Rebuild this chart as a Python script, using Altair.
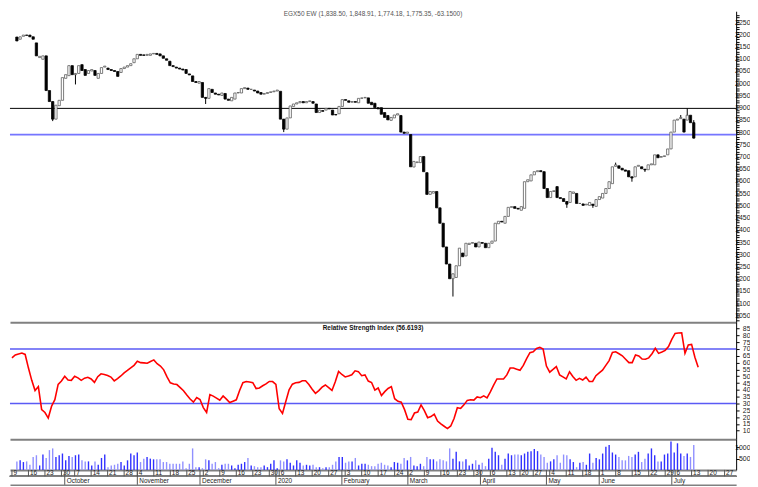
import altair as alt
import pandas as pd

# ---------------- price candles (one entry per trading day) ----------------
open_sep_dec = [2189, 2180, 2192, 2197, 2197, 2190, 2165, 2105, 2098, 2112,
                1970, 1925, 1853, 1908, 1930, 2020, 2031, 2072, 2035, 2040,
                2076, 2056, 2040, 2050, 2052, 2020, 2040, 2066, 2062, 2056,
                2052, 2048, 2044, 2060, 2066, 2072, 2084, 2100, 2118, 2116,
                2114, 2114, 2120, 2122, 2120, 2112, 2100, 2090, 2072, 2066,
                2062, 2058, 2056, 2038, 2030, 2007, 2000, 2003, 1942, 1938,
                1975, 1960, 1955, 1950, 1958, 1935, 1928, 1935, 1960, 1960,
                1978, 1980, 1975]
close_sep_dec = [2173, 2190, 2197, 2196, 2190, 2180, 2112, 2110, 2112, 1970,
                 1925, 1853, 1910, 1930, 2023, 2035, 2072, 2035, 2040, 2072,
                 2052, 2032, 2052, 2056, 2032, 2040, 2064, 2070, 2056, 2052,
                 2048, 2028, 2060, 2066, 2072, 2080, 2100, 2118, 2114, 2114,
                 2118, 2120, 2122, 2118, 2112, 2102, 2094, 2072, 2068, 2062,
                 2058, 2054, 2040, 2034, 2007, 2003, 2007, 1942, 1938, 1978,
                 1962, 1955, 1952, 1960, 1935, 1930, 1942, 1960, 1962, 1978,
                 1982, 1975, 1975]
open_dec_apr = [1972, 1968, 1962, 1955, 1958, 1962, 1965, 1968, 1967, 1853,
                1812, 1858, 1905, 1915, 1920, 1925, 1920, 1925, 1925, 1915,
                1880, 1888, 1890, 1897, 1890, 1872, 1875, 1905, 1933, 1928,
                1922, 1925, 1920, 1938, 1940, 1940, 1922, 1918, 1900, 1900,
                1880, 1868, 1848, 1858, 1870, 1868, 1800, 1795, 1790, 1657,
                1675, 1675, 1700, 1634, 1545, 1550, 1557, 1490, 1427, 1330,
                1260, 1200, 1205, 1253, 1305, 1293, 1340, 1345, 1345, 1330,
                1348, 1345, 1327, 1345, 1354]
close_dec_apr = [1968, 1960, 1955, 1958, 1962, 1965, 1968, 1972, 1853, 1812,
                 1858, 1907, 1915, 1920, 1925, 1920, 1925, 1928, 1918, 1880,
                 1890, 1885, 1897, 1895, 1870, 1870, 1905, 1933, 1930, 1922,
                 1925, 1922, 1938, 1940, 1942, 1918, 1912, 1900, 1895, 1873,
                 1860, 1850, 1860, 1870, 1875, 1800, 1795, 1800, 1658, 1680,
                 1678, 1700, 1638, 1545, 1557, 1557, 1490, 1427, 1330, 1260,
                 1200, 1220, 1253, 1325, 1290, 1345, 1345, 1348, 1330, 1350,
                 1345, 1327, 1345, 1354, 1427]
open_apr_jul = [1425, 1435, 1427, 1455, 1492, 1495, 1488, 1480, 1488, 1597,
                1600, 1625, 1638, 1642, 1638, 1569, 1532, 1557, 1577, 1532,
                1528, 1516, 1512, 1549, 1549, 1508, 1506, 1502, 1500, 1505,
                1496, 1524, 1530, 1549, 1569, 1589, 1660, 1662, 1652, 1645,
                1642, 1617, 1617, 1660, 1658, 1648, 1646, 1666, 1666, 1707,
                1697, 1700, 1707, 1731, 1800, 1849, 1855, 1853, 1849, 1869,
                1838.50]
close_apr_jul = [1435, 1432, 1455, 1492, 1495, 1488, 1485, 1495, 1597, 1605,
                 1625, 1638, 1642, 1638, 1569, 1532, 1557, 1560, 1532, 1528,
                 1516, 1505, 1557, 1555, 1508, 1508, 1500, 1505, 1512, 1500,
                 1524, 1536, 1549, 1569, 1597, 1658, 1666, 1652, 1645, 1640,
                 1617, 1612, 1658, 1664, 1650, 1645, 1666, 1670, 1707, 1695,
                 1700, 1703, 1731, 1800, 1849, 1853, 1860, 1800, 1869, 1838.50,
                 1775.35]

# visible shadows (day index, high, low)
wick_day = [11, 18, 58, 82, 134, 169, 177, 184, 189, 193, 204, 206, 208]
wick_high = [1925, 2040, 1942, 1853, 1220, 1516, 1505, 1675, 1617, 1648, 1870, 1897, 1848.91]
wick_low = [1845, 1995, 1915, 1800, 1127, 1490, 1490, 1660, 1597, 1637, 1855, 1849, 1774.18]

# ---------------- RSI ----------------
rsi_values = [63.5, 65.6, 66.4, 67, 66, 56, 47, 39.5, 42.4, 25.6,
              23.4, 19.3, 28, 32.8, 44, 46.5, 50, 47.3, 47, 50,
              48.8, 47, 48.6, 49.2, 48, 45.5, 49.7, 51.8, 51.3, 50.6,
              49.4, 46.6, 48.3, 50.2, 52.5, 54.3, 56.2, 58, 61, 60,
              59.8, 59.6, 60.8, 62, 59.2, 57.5, 54.7, 49.5, 45.2, 44.3,
              43.9, 41.6, 39.4, 36.2, 33.3, 31, 34.3, 32.9, 27, 23.4,
              36.5, 35.4, 34, 32.4, 35.5, 33.2, 30.7, 31.7, 32.7, 39.6,
              45.3, 46.1, 45.8, 45.3, 41, 41.4, 43, 44.4, 46.2, 46.1,
              44, 26.1, 22.7, 31.5, 40, 44.2, 45.2, 45.5, 46.7, 46.7,
              44, 40.5, 37.5, 39.5, 42, 43.6, 41.7, 39.6, 46, 53.5,
              51.3, 49.5, 50.2, 51.1, 54, 53.4, 50.4, 51, 46.5, 45.4,
              39.8, 41.4, 35.8, 38.7, 41, 42.4, 33.5, 31.6, 31, 25.5,
              18.4, 18.2, 23, 23.7, 29, 24.8, 19.6, 20.4, 22.2, 17.1,
              15, 13.3, 11.6, 13.5, 19, 26.9, 26.4, 29, 32.3, 32.7,
              32.5, 34.8, 34.2, 35.6, 34.1, 38.5, 43.5, 48, 48, 48,
              51, 56, 56, 55.2, 54.4, 58, 63, 67.3, 68, 70.4,
              71.2, 70, 57.5, 53, 55, 57.1, 51, 49.5, 48, 53.3,
              49.8, 47, 48.5, 47.2, 49.4, 46.2, 46.2, 50.4, 52.5, 54.5,
              58, 61.5, 67.5, 68, 66.5, 65, 62.5, 60, 60, 65.6,
              64.9, 62.6, 62.5, 63.5, 66.5, 70.5, 66.8, 67.8, 69, 71.8,
              77, 81.4, 81.7, 81.9, 66.8, 72.9, 73.4, 64, 56.6]

# ---------------- volume ----------------
volume_sep_feb = [375, 420, 345, 375, 225, 570, 645, 195, 675, 525,
                  870, 945, 570, 645, 720, 420, 615, 570, 645, 675,
                  420, 375, 375, 195, 375, 225, 525, 675, 120, 195,
                  225, 270, 345, 195, 420, 720, 645, 765, 345, 495,
                  570, 495, 465, 465, 465, 345, 345, 270, 270, 270,
                  270, 375, 75, 270, 945, 120, 120, 75, 465, 420,
                  270, 345, 75, 225, 270, 270, 195, 75, 225, 270,
                  345, 525, 195, 165, 120, 120, 195, 120, 270, 420,
                  75, 420, 375, 465, 315, 195, 420, 315, 195, 225,
                  195, 225, 120, 120, 75, 120, 120, 225, 375, 570,
                  570, 315, 375, 375, 525, 195, 270, 270, 225, 165,
                  165]
volume_feb_jul = [270, 315, 225, 195, 120, 345, 315, 270, 525, 420,
                  570, 195, 165, 270, 165, 570, 465, 465, 375, 465,
                  420, 375, 945, 495, 795, 375, 375, 465, 195, 270,
                  420, 225, 315, 165, 495, 975, 795, 645, 225, 495,
                  720, 645, 675, 675, 645, 720, 795, 825, 915, 825,
                  675, 570, 315, 375, 465, 645, 315, 675, 645, 465,
                  345, 120, 315, 345, 225, 720, 315, 525, 465, 720,
                  1020, 1095, 765, 675, 570, 420, 420, 615, 570, 675,
                  795, 345, 495, 720, 945, 645, 375, 375, 675, 720,
                  1245, 765, 1170, 720, 615, 720, 570, 1095]

# ---------------- date axis ----------------
week_day = [0, 5, 10, 15, 19, 24, 29, 34, 38, 43, 48, 53, 58, 63, 68, 73, 78, 81, 86, 91,
            96, 101, 106, 111, 116, 120, 125, 130, 135, 140, 145, 150, 154, 158, 163, 168,
            173, 178, 183, 188, 193, 198, 201, 206, 211, 216]
week_label = ["9", "16", "23", "30", "7", "14", "21", "28", "4", "11", "18", "25", "2", "9",
              "16", "23", "30", "6", "13", "20", "27", "3", "10", "17", "24", "2", "9", "16",
              "23", "30", "6", "13", "20", "27", "4", "11", "18", "1", "8", "15", "22", "29",
              "6", "13", "20", "27"]
month_day = [16, 38, 57, 80, 100, 120, 142, 162, 178, 200]
month_label = ["October", "November", "December", "2020", "February",
               "March", "April", "May", "June", "July"]

price_ticks = list(range(1030, 2290, 10))
rsi_ticks = [10, 15, 20, 25, 30, 35, 40, 45, 50, 55, 60, 65, 70, 75, 80, 85]
volume_ticks = [500, 1000]
resistance_level = [1897]
support_level = [1790]
rsi_bands = [70, 30]
chart_title = "EGX50 EW (1,838.50, 1,848.91, 1,774.18, 1,775.35, -63.1500)"
rsi_title = "Relative Strength Index (56.6193)"

# ---------------- tables ----------------
opens = open_sep_dec + open_dec_apr + open_apr_jul
closes = close_sep_dec + close_dec_apr + close_apr_jul
df = pd.DataFrame({
    "day": list(range(len(opens))),
    "open": opens,
    "close": closes,
    "rsi": rsi_values,
    "volume": volume_sep_feb + volume_feb_jul,
})
wicks = pd.DataFrame({"day": wick_day, "high": wick_high, "low": wick_low})
weeks = pd.DataFrame({"day": week_day, "label": week_label})
months = pd.DataFrame({"day": month_day, "label": month_label})

W = 733
FONT = "Liberation Sans"
xs = alt.Scale(domain=[-0.6, 219.5], nice=False, zero=False)


def xenc(line=True, width=2):
    return alt.X("day:Q", scale=xs,
                 axis=alt.Axis(domain=line, domainColor="#808080", domainWidth=width,
                               ticks=False, labels=False, grid=False, title=None))


def right_axis(values, label_expr=None, fmt="d"):
    kw = dict(orient="right", values=values, format=fmt, tickSize=3, tickColor="#000000",
              domainColor="#000000", domainWidth=1, labelFontSize=7, labelColor="#222222",
              labelFont=FONT, labelAlign="right", labelBaseline="middle", labelPadding=11,
              labelOverlap=False, grid=False, title=None)
    if label_expr:
        kw["labelExpr"] = label_expr
    return alt.Axis(**kw)


# ---------------- price panel ----------------
pscale = alt.Scale(domain=[1021.6, 2294.6], nice=False, zero=False)
paxis = right_axis(price_ticks, "datum.value % 50 == 0 ? datum.label : ''")

wick_layer = alt.Chart(wicks).mark_rule(color="#000000", strokeWidth=1).encode(
    x=xenc(), y=alt.Y("low:Q", scale=pscale, axis=paxis), y2="high:Q")
up_layer = alt.Chart(df).transform_filter("datum.close >= datum.open").mark_bar(
    width=2.3, fill="#ffffff", stroke="#5a5a5a", strokeWidth=0.8).encode(
    x=xenc(), y=alt.Y("open:Q", scale=pscale, axis=paxis), y2="close:Q")
down_layer = alt.Chart(df).transform_filter("datum.close < datum.open").mark_bar(
    width=2.3, fill="#000000", stroke="#000000", strokeWidth=0.8).encode(
    x=xenc(), y=alt.Y("open:Q", scale=pscale, axis=paxis), y2="close:Q")
res_layer = alt.Chart(pd.DataFrame({"level": resistance_level})).mark_rule(
    color="#000000", strokeWidth=1).encode(y=alt.Y("level:Q", scale=pscale, axis=paxis))
sup_layer = alt.Chart(pd.DataFrame({"level": support_level})).mark_rule(
    color="#7575ff", strokeWidth=1.7).encode(y=alt.Y("level:Q", scale=pscale, axis=paxis))
ptitle = alt.Chart(pd.DataFrame({"t": [chart_title]})).mark_text(
    font=FONT, fontSize=6.5, color="#555555", baseline="middle", align="center").encode(
    text="t:N", x=alt.value(W / 2), y=alt.value(3.3))

price = alt.layer(sup_layer, res_layer, wick_layer, up_layer, down_layer, ptitle).properties(
    width=W, height=314)

# ---------------- RSI panel ----------------
rscale = alt.Scale(domain=[3.8, 89.6], nice=False, zero=False)
raxis = right_axis(rsi_ticks)
band_layer = alt.Chart(pd.DataFrame({"level": rsi_bands})).mark_rule(
    color="#5a5af5", strokeWidth=1.3).encode(y=alt.Y("level:Q", scale=rscale, axis=raxis))
rsi_line = alt.Chart(df).mark_line(color="#ff0000", strokeWidth=1.6).encode(
    x=xenc(), y=alt.Y("rsi:Q", scale=rscale, axis=raxis))
rtitle = alt.Chart(pd.DataFrame({"t": [rsi_title]})).mark_text(
    font=FONT, fontSize=6.5, fontWeight="bold", color="#111111", baseline="middle",
    align="center").encode(text="t:N", x=alt.value(W / 2), y=alt.value(6))
rsi = alt.layer(band_layer, rsi_line, rtitle).properties(width=W, height=118)

# ---------------- volume panel ----------------
vscale = alt.Scale(domain=[0, 1350], nice=False, zero=True)
vaxis = right_axis(volume_ticks)
vol_up = alt.Chart(df).transform_filter("datum.close >= datum.open").mark_bar(
    width=1.4, color="#3030ff").encode(x=xenc(), y=alt.Y("volume:Q", scale=vscale, axis=vaxis))
vol_down = alt.Chart(df).transform_filter("datum.close < datum.open").mark_bar(
    width=1.4, color="#9090ff").encode(x=xenc(), y=alt.Y("volume:Q", scale=vscale, axis=vaxis))
volume = alt.layer(vol_up, vol_down).properties(width=W, height=31)

# ---------------- date strip ----------------
mid_line = alt.Chart(weeks).mark_rule(color="#808080", strokeWidth=1).encode(
    y=alt.value(6.5))
week_sep = alt.Chart(weeks).mark_rule(color="#555555", strokeWidth=1).encode(
    x=xenc(True, 1.5), y=alt.value(0), y2=alt.value(6.5))
week_txt = alt.Chart(weeks).mark_text(font=FONT, fontSize=6.5, color="#222222", align="left",
                                      baseline="middle", dx=1.5).encode(
    x=xenc(True, 1.5), y=alt.value(3.3), text="label:N")
month_sep = alt.Chart(months).mark_rule(color="#555555", strokeWidth=1).encode(
    x=xenc(True, 1.5), y=alt.value(0), y2=alt.value(15))
month_txt = alt.Chart(months).mark_text(font=FONT, fontSize=6.5, color="#222222", align="left",
                                        baseline="middle", dx=2).encode(
    x=xenc(True, 1.5), y=alt.value(10.8), text="label:N")
dates = alt.layer(mid_line, week_sep, week_txt, month_sep, month_txt).properties(
    width=W, height=15)

chart = alt.vconcat(price, rsi, volume, dates, spacing=0, bounds="flush").properties(
    padding=0, background="#ffffff").configure_view(stroke=None)

chart.save("out.html", embed_options={"renderer": "svg", "actions": False})
